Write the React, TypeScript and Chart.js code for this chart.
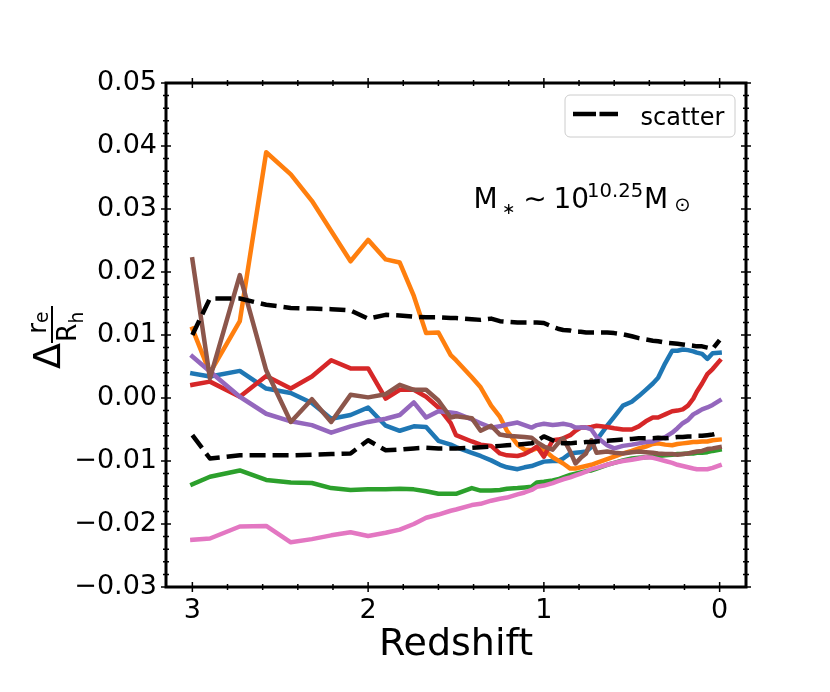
import { useEffect, useRef } from "react"
import { Chart, registerables } from "chart.js"

Chart.register(...registerables)

// snapshot redshifts (x axis runs from 3 down to 0)
const redshift = [
  3.0, 2.9, 2.73, 2.58, 2.44, 2.32, 2.21, 2.1, 2.0, 1.9, 1.82, 1.74, 1.67, 1.6, 1.53, 1.5, 1.41, 1.36,
  1.3, 1.25, 1.21, 1.15, 1.11, 1.07, 1.04, 1.0, 0.95, 0.92, 0.89, 0.85, 0.82, 0.79, 0.76, 0.73, 0.7,
  0.64, 0.6, 0.55, 0.5, 0.46, 0.42, 0.38, 0.35, 0.31, 0.27, 0.24, 0.21, 0.18, 0.15, 0.13, 0.1, 0.07,
  0.04, 0.0,
]

const blueValues = [
  0.0039, 0.0034, 0.0043, 0.0015, 0.0008, -0.0008, -0.0033, -0.0027, -0.0015, -0.0044, -0.0052,
  -0.0045, -0.0046, -0.0068, -0.0074, -0.0078, -0.0087, -0.0092, -0.0099, -0.0106, -0.011, -0.0113,
  -0.011, -0.0108, -0.0105, -0.0101, -0.01, -0.01, -0.0096, -0.0088, -0.0087, -0.0086, -0.0085,
  -0.0078, -0.0067, -0.0044, -0.003, -0.0012, -0.0006, 0.0003, 0.0013, 0.0023, 0.0032, 0.0055,
  0.0075, 0.0075, 0.0077, 0.0076, 0.0074, 0.0072, 0.007, 0.0062, 0.0071, 0.0072,
]

const orangeValues = [
  0.011, 0.004, 0.0122, 0.039, 0.0355, 0.0313, 0.0265, 0.0217, 0.0251, 0.022, 0.0215, 0.0162,
  0.0103, 0.0104, 0.0068, 0.006, 0.0033, 0.0017, -0.0012, -0.003, -0.0052, -0.0074, -0.0082,
  -0.0083, -0.008, -0.0082, -0.0094, -0.0099, -0.0104, -0.0112, -0.0112, -0.011, -0.0108, -0.0106,
  -0.0103, -0.0097, -0.0093, -0.0088, -0.0084, -0.008, -0.0077, -0.0073, -0.0072, -0.0074, -0.0075,
  -0.0073, -0.0072, -0.0071, -0.007, -0.007, -0.0069, -0.0069, -0.0067, -0.0066,
]

const greenValues = [
  -0.0137, -0.0125, -0.0115, -0.013, -0.0134, -0.0135, -0.0143, -0.0146, -0.0145, -0.0145, -0.0144,
  -0.0145, -0.0148, -0.0152, -0.0152, -0.0152, -0.0143, -0.0147, -0.0147, -0.0146, -0.0144, -0.0143,
  -0.0142, -0.0141, -0.0134, -0.0133, -0.0131, -0.0129, -0.0126, -0.0122, -0.012, -0.0118, -0.0116,
  -0.0115, -0.0112, -0.0106, -0.0103, -0.0099, -0.0096, -0.0095, -0.0094, -0.0093, -0.0092,
  -0.0091, -0.009, -0.0089, -0.0089, -0.0088, -0.0088, -0.0087, -0.0087, -0.0086, -0.0084, -0.0082,
]

const redValues = [
  0.0021, 0.0026, 0.0002, 0.0035, 0.0015, 0.0034, 0.006, 0.0047, 0.0047, -0.0001, 0.0013, 0.0013,
  0.0002, -0.0015, -0.004, -0.0059, -0.0069, -0.0074, -0.0076, -0.0088, -0.0091, -0.0092, -0.0089,
  -0.0083, -0.0077, -0.0093, -0.0067, -0.0066, -0.0064, -0.0059, -0.0052, -0.0047, -0.0047,
  -0.0046, -0.0044, -0.0046, -0.0048, -0.005, -0.005, -0.0045, -0.0037, -0.0031, -0.0031, -0.0026,
  -0.0021, -0.002, -0.0018, -0.0012, -0.0001, 0.001, 0.0023, 0.0038, 0.0046, 0.0059,
]

const purpleValues = [
  0.0066, 0.0042, 0.0002, -0.0025, -0.0037, -0.0043, -0.0055, -0.0045, -0.0038, -0.0033, -0.0027,
  -0.0007, -0.0031, -0.0021, -0.0023, -0.0024, -0.0034, -0.004, -0.0047, -0.0045, -0.0042, -0.0039,
  -0.0043, -0.0047, -0.0043, -0.0041, -0.0043, -0.0042, -0.0041, -0.0043, -0.0047, -0.0047,
  -0.0047, -0.005, -0.0062, -0.0075, -0.008, -0.0076, -0.0074, -0.0072, -0.007, -0.0069, -0.0066,
  -0.0062, -0.0055, -0.0048, -0.004, -0.0035, -0.0026, -0.0023, -0.0018, -0.0015, -0.0011, -0.0004,
]

const brownValues = [
  0.022, 0.0031, 0.0195, 0.0044, -0.0038, -0.0002, -0.0038, 0.0005, 0.0001, 0.0006, 0.0021, 0.0013,
  0.0013, -0.0004, -0.0031, -0.0029, -0.0032, -0.0052, -0.0044, -0.0058, -0.006, -0.0061, -0.0062,
  -0.0063, -0.007, -0.0077, -0.0082, -0.0072, -0.0064, -0.0085, -0.0104, -0.0095, -0.0088,
  -0.0067, -0.0087, -0.0085, -0.0087, -0.0088, -0.0086, -0.0085, -0.0086, -0.0087, -0.0088,
  -0.0089, -0.0089, -0.009, -0.0089, -0.0088, -0.0086, -0.0085, -0.0084, -0.0081, -0.008, -0.0078,
]

const pinkValues = [
  -0.0225, -0.0223, -0.0204, -0.0203, -0.0229, -0.0224, -0.0218, -0.0213, -0.0219, -0.0214,
  -0.0209, -0.02, -0.019, -0.0185, -0.0179, -0.0177, -0.017, -0.0168, -0.0163, -0.016, -0.0158,
  -0.0153, -0.015, -0.0146, -0.0141, -0.0139, -0.0135, -0.0132, -0.0129, -0.0126, -0.0123, -0.012,
  -0.0117, -0.0113, -0.0111, -0.0106, -0.0103, -0.01, -0.0098, -0.0096, -0.0094, -0.0095, -0.0097,
  -0.01, -0.0103, -0.0106, -0.0108, -0.011, -0.0112, -0.0113, -0.0113, -0.0113, -0.0111, -0.0107,
]

const scatterUpper = [
  0.01, 0.0158, 0.0158, 0.0148, 0.0143, 0.0142, 0.0141, 0.0139, 0.0126, 0.0132, 0.0131, 0.0129,
  0.0128, 0.0128, 0.0127, 0.0127, 0.0125, 0.0124, 0.0126, 0.0122, 0.0121, 0.012, 0.012, 0.012,
  0.012, 0.0119, 0.0113, 0.011, 0.0108, 0.0107, 0.0105, 0.0105, 0.0104, 0.0104, 0.0104, 0.0104,
  0.0103, 0.0101, 0.0098, 0.0095, 0.0093, 0.0091, 0.009, 0.0088, 0.0087, 0.0086, 0.0085, 0.0084,
  0.0083, 0.0082, 0.0082, 0.008, 0.0078, 0.0092,
]

const scatterLower = [
  -0.0059, -0.0096, -0.0091, -0.0091, -0.0091, -0.009, -0.0089, -0.0088, -0.0067, -0.0083,
  -0.0082, -0.008, -0.0079, -0.008, -0.008, -0.008, -0.0079, -0.0078, -0.0077, -0.0076, -0.0075,
  -0.0074, -0.0073, -0.0072, -0.0068, -0.0061, -0.0067, -0.0071, -0.0072, -0.0072, -0.0071,
  -0.0071, -0.007, -0.007, -0.0069, -0.0068, -0.0067, -0.0066, -0.0065, -0.0064, -0.0064, -0.0064,
  -0.0063, -0.0064, -0.0063, -0.0062, -0.0062, -0.0061, -0.0061, -0.006, -0.006, -0.0059, -0.0058,
  -0.0055,
]

const xMajorTicks = [3, 2, 1, 0]
const yMajorTicks = [-0.03, -0.02, -0.01, 0, 0.01, 0.02, 0.03, 0.04, 0.05]
const xLabel = "Redshift"
const legendLabel = "scatter"

const FONT = '"DejaVu Sans", sans-serif'
const f = (size: number) => `${size}px ${FONT}`

// minor ticks every 0.2 in redshift and 0.002 in y
const xMinorTicks: number[] = []
for (let i = 1; i < 15; i++) if (i % 5 !== 0) xMinorTicks.push(i * 0.2)
const yMinorTicks: number[] = []
for (let i = -15; i <= 25; i++) if (i % 5 !== 0) yMinorTicks.push(i * 0.002)

const series = [
  { values: blueValues, color: "#1f77b4" },
  { values: orangeValues, color: "#ff7f0e" },
  { values: greenValues, color: "#2ca02c" },
  { values: redValues, color: "#d62728" },
  { values: purpleValues, color: "#9467bd" },
  { values: brownValues, color: "#8c564b" },
  { values: pinkValues, color: "#e377c2" },
  { values: scatterUpper, color: "#000000", dashed: true },
  { values: scatterLower, color: "#000000", dashed: true },
]

const decorations = {
  id: "decorations",
  afterDatasetsDraw(chart: Chart) {
    const { ctx, chartArea: a } = chart
    const xs = chart.scales.x
    const ys = chart.scales.y
    ctx.save()
    ctx.strokeStyle = "#000"
    ctx.fillStyle = "#000"

    // ticks on all four sides, crossing the spines
    ctx.lineWidth = 1.5
    ctx.beginPath()
    const xTick = (v: number, half: number) => {
      const p = xs.getPixelForValue(v)
      ctx.moveTo(p, a.bottom - half)
      ctx.lineTo(p, a.bottom + half)
      ctx.moveTo(p, a.top - half)
      ctx.lineTo(p, a.top + half)
    }
    const yTick = (v: number, half: number) => {
      const p = ys.getPixelForValue(v)
      ctx.moveTo(a.left - half, p)
      ctx.lineTo(a.left + half, p)
      ctx.moveTo(a.right - half, p)
      ctx.lineTo(a.right + half, p)
    }
    xMinorTicks.forEach((v) => xTick(v, 3))
    xMajorTicks.forEach((v) => xTick(v, 5))
    yMinorTicks.forEach((v) => yTick(v, 3))
    yMajorTicks.forEach((v) => yTick(v, 5))
    ctx.stroke()

    // frame
    ctx.lineWidth = 3
    ctx.strokeRect(a.left, a.top, a.right - a.left, a.bottom - a.top)

    // legend
    const lx = a.right - 181
    const ly = a.top + 12
    ctx.beginPath()
    ctx.roundRect(lx, ly, 170, 42, 5)
    ctx.fillStyle = "rgba(255,255,255,0.8)"
    ctx.fill()
    ctx.lineWidth = 1
    ctx.strokeStyle = "#cccccc"
    ctx.stroke()
    ctx.strokeStyle = "#000"
    ctx.lineWidth = 4.5
    ctx.setLineDash([23, 3.5])
    ctx.beginPath()
    ctx.moveTo(lx + 8, ly + 19)
    ctx.lineTo(lx + 53, ly + 19)
    ctx.stroke()
    ctx.setLineDash([])
    ctx.fillStyle = "#000"
    ctx.textBaseline = "alphabetic"
    ctx.textAlign = "left"
    ctx.font = f(24)
    ctx.fillText(legendLabel, lx + 75.5, ly + 30)

    // mass annotation
    const ox = a.left - 166
    const oy = a.top - 83
    ctx.font = f(28)
    ctx.fillText("M", ox + 473.5, oy + 208)
    ctx.font = f(16)
    ctx.fillText("\u2217", ox + 502, oy + 214)
    ctx.textAlign = "center"
    ctx.font = f(28)
    ctx.fillText("\u223C", ox + 535, oy + 208)
    ctx.textAlign = "left"
    ctx.fillText("10", ox + 553.5, oy + 208)
    ctx.font = f(19.6)
    ctx.fillText("10.25", ox + 587, oy + 197)
    ctx.font = f(28)
    ctx.fillText("M", ox + 644, oy + 208)
    ctx.textAlign = "center"
    ctx.font = f(19.6)
    ctx.fillText("\u2299", ox + 682.5, oy + 211)

    // x axis title
    ctx.font = f(38)
    ctx.fillText(xLabel, (a.left + a.right) / 2, oy + 655)

    // y axis title: Delta r_e / R_h, rotated
    ctx.textAlign = "left"
    const rot = (text: string, sx: number, sy: number, size: number) => {
      ctx.save()
      ctx.translate(ox + sx, oy + sy)
      ctx.rotate(-Math.PI / 2)
      ctx.font = f(size)
      ctx.fillText(text, 0, 0)
      ctx.restore()
    }
    rot("\u0394", 60, 369, 38)
    rot("r", 46, 334, 26.6)
    rot("e", 48, 323, 18.6)
    rot("R", 76, 342, 26.6)
    rot("h", 83, 323.5, 18.6)
    ctx.fillRect(ox + 51, oy + 306, 2, 37)

    ctx.restore()
  },
}

export default function App() {
  const canvasRef = useRef<HTMLCanvasElement>(null)

  useEffect(() => {
    document.body.style.margin = "0"
    if (!canvasRef.current) return

    const chart = new Chart(canvasRef.current, {
      type: "line",
      data: {
        datasets: series.map((s, i) => ({
          data: redshift.map((z, j) => ({ x: z, y: s.values[j] })),
          borderColor: s.color,
          borderWidth: 4.5,
          borderDash: s.dashed ? [16, 7] : [],
          borderJoinStyle: "round" as const,
          borderCapStyle: s.dashed ? ("butt" as const) : ("square" as const),
          pointRadius: 0,
          tension: 0,
          fill: false,
          order: series.length - i,
        })),
      },
      plugins: [decorations],
      options: {
        animation: false,
        responsive: false,
        layout: { padding: { left: 0, top: 83, right: 84, bottom: 0 } },
        plugins: {
          legend: { display: false },
          tooltip: { enabled: false },
        },
        scales: {
          x: {
            type: "linear",
            reverse: true,
            min: -0.15,
            max: 3.15,
            grid: { display: false, drawTicks: false },
            border: { display: false },
            afterBuildTicks: (axis) => {
              axis.ticks = xMajorTicks.map((v) => ({ value: v }))
            },
            afterFit: (axis) => {
              axis.height = 105
            },
            ticks: {
              autoSkip: false,
              maxRotation: 0,
              padding: 8,
              color: "#000",
              font: { family: FONT, size: 27 },
              callback: (v) => String(Math.round(Number(v))),
            },
          },
          y: {
            type: "linear",
            min: -0.03,
            max: 0.05,
            grid: { display: false, drawTicks: false },
            border: { display: false },
            afterBuildTicks: (axis) => {
              axis.ticks = yMajorTicks.map((v) => ({ value: v }))
            },
            afterFit: (axis) => {
              axis.width = 166
            },
            ticks: {
              autoSkip: false,
              padding: 9,
              color: "#000",
              font: { family: FONT, size: 27 },
              callback: (v) => {
                const n = Number(v)
                if (Math.abs(n) < 1e-9) return "0.00"
                return n.toFixed(2).replace("-", "\u2212")
              },
            },
          },
        },
      },
    })

    return () => {
      chart.destroy()
    }
  }, [])

  return (
    <div style={{ position: "absolute", left: 0, top: 0, width: 830, height: 692, background: "#fff" }}>
      <canvas ref={canvasRef} width={830} height={692} />
    </div>
  )
}
